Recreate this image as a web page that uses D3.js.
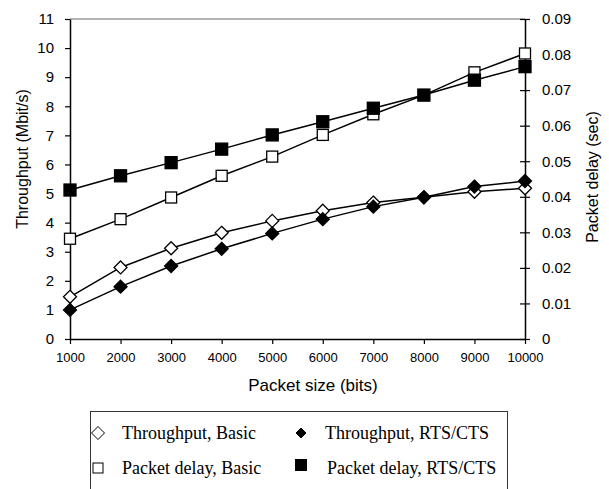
<!DOCTYPE html>
<html><head><meta charset="utf-8">
<script src="https://cdn.jsdelivr.net/npm/d3@7"></script>
<style>body{margin:0;background:#fff;} svg{display:block;}</style>
</head><body>
<svg id="c" width="609" height="489"></svg>
<script>
const packetSizes = [1000,2000,3000,4000,5000,6000,7000,8000,9000,10000];
const throughputBasic = [1.45,2.46,3.12,3.65,4.06,4.41,4.69,4.87,5.06,5.18];
const throughputRTS = [1.0,1.80,2.51,3.10,3.63,4.12,4.55,4.87,5.24,5.43];
const delayBasic = [0.0282,0.0337,0.0398,0.0459,0.0513,0.0574,0.0632,0.0686,0.0750,0.0803];
const delayRTS = [0.0419,0.0459,0.0496,0.0534,0.0574,0.0611,0.0649,0.0686,0.0728,0.0766];
const leftTicks = [0,1,2,3,4,5,6,7,8,9,10,11];
const rightTicks = [0,0.01,0.02,0.03,0.04,0.05,0.06,0.07,0.08,0.09];
const xTicks = packetSizes;

const svg = d3.select('#c');
const L=70, R=525, T=19, B=339;
const x = d3.scaleLinear().domain([1000,10000]).range([L,R]);
const yL = d3.scaleLinear().domain([0,11]).range([B,T]);
const yR = d3.scaleLinear().domain([0,0.09]).range([B,T]);
const sans = 'Liberation Sans, Arial, sans-serif';

// top border
svg.append('line').attr('x1',L).attr('x2',R).attr('y1',T).attr('y2',T)
  .attr('stroke','#9a9a9a').attr('stroke-width',1.5);

// axes
const gx = svg.append('g').attr('transform',`translate(0,${B})`)
  .call(d3.axisBottom(x).tickValues(xTicks).tickFormat(d3.format('d')).tickSize(5).tickSizeOuter(0));
const gl = svg.append('g').attr('transform',`translate(${L},0)`)
  .call(d3.axisLeft(yL).tickValues(leftTicks).tickSize(5).tickSizeOuter(0));
const gr = svg.append('g').attr('transform',`translate(${R},0)`)
  .call(d3.axisRight(yR).tickValues(rightTicks).tickFormat(d=>d===0?'0':d3.format('.2f')(d)).tickSize(5).tickSizeOuter(0));
gr.selectAll('.tick line').attr('x1',-5);
[gx,gl,gr].forEach(g=>{
  g.selectAll('path.domain').attr('stroke','#000').attr('stroke-width',1.5);
  g.selectAll('.tick line').attr('stroke','#000').attr('stroke-width',1.2);
  g.selectAll('text').attr('font-family',sans).attr('fill','#000');
});
gx.selectAll('text').attr('font-size',13).attr('dy','0.71em').attr('y',14);
gl.selectAll('text').attr('font-size',15).attr('x',-16);
gr.selectAll('text').attr('font-size',15).attr('x',17);

// titles
svg.append('text').attr('transform','translate(28,159) rotate(-90)').attr('text-anchor','middle')
  .attr('font-family',sans).attr('font-size',16).text('Throughput (Mbit/s)');
svg.append('text').attr('transform','translate(598,177) rotate(-90)').attr('text-anchor','middle')
  .attr('font-family',sans).attr('font-size',16).text('Packet delay (sec)');
svg.append('text').attr('x',313).attr('y',391).attr('text-anchor','middle')
  .attr('font-family',sans).attr('font-size',17).text('Packet size (bits)');

const line = (ys,sc)=>d3.line().x((d,i)=>x(packetSizes[i])).y(d=>sc(d))(ys);
const diamond = (cx,cy,r)=>`M${cx},${cy-r}L${cx+r},${cy}L${cx},${cy+r}L${cx-r},${cy}Z`;

function drawSeries(ys,sc,kind,filled){
  svg.append('path').attr('d',line(ys,sc)).attr('fill','none').attr('stroke','#000').attr('stroke-width',1.5);
  const g = svg.append('g');
  ys.forEach((v,i)=>{
    const cx=x(packetSizes[i]), cy=sc(v);
    if(kind==='d'){
      g.append('path').attr('d',diamond(cx,cy,6.5)).attr('fill',filled?'#000':'#fff').attr('stroke','#000').attr('stroke-width',1.3);
    } else {
      const s=filled?12:11;
      g.append('rect').attr('x',cx-s/2).attr('y',cy-s/2).attr('width',s).attr('height',s)
        .attr('fill',filled?'#000':'#fff').attr('stroke','#000').attr('stroke-width',1.3);
    }
  });
}
drawSeries(throughputBasic,yL,'d',false);
drawSeries(throughputRTS,yL,'d',true);
drawSeries(delayBasic,yR,'s',false);
drawSeries(delayRTS,yR,'s',true);

// legend
const serif='Liberation Serif, Times New Roman, serif';
svg.append('rect').attr('x',90.5).attr('y',411.5).attr('width',417).attr('height',120)
  .attr('fill','#fff').attr('stroke','#333').attr('stroke-width',1);
const legendItems = [
  {label:'Throughput, Basic', kind:'d', filled:false, mx:98, tx:122, y:433},
  {label:'Throughput, RTS/CTS', kind:'d', filled:true, mx:301, tx:325, y:433},
  {label:'Packet delay, Basic', kind:'s', filled:false, mx:98, tx:122, y:468},
  {label:'Packet delay, RTS/CTS', kind:'s', filled:true, mx:301, tx:327, y:468}
];
legendItems.forEach(it=>{
  if(it.kind==='d'){
    const r = it.filled?5:6.5;
    svg.append('path').attr('d',diamond(it.mx,it.y,r)).attr('fill',it.filled?'#000':'#fff').attr('stroke','#000').attr('stroke-width',1);
  } else {
    const s = it.filled?11:10;
    svg.append('rect').attr('x',it.mx-s/2).attr('y',it.y-s/2-(it.filled?3:0)).attr('width',s).attr('height',s)
      .attr('fill',it.filled?'#000':'#fff').attr('stroke','#000').attr('stroke-width',1);
  }
  svg.append('text').attr('x',it.tx).attr('y',it.y).attr('dy','0.35em')
    .attr('font-family',serif).attr('font-size',18).text(it.label);
});
</script>
</body></html>
